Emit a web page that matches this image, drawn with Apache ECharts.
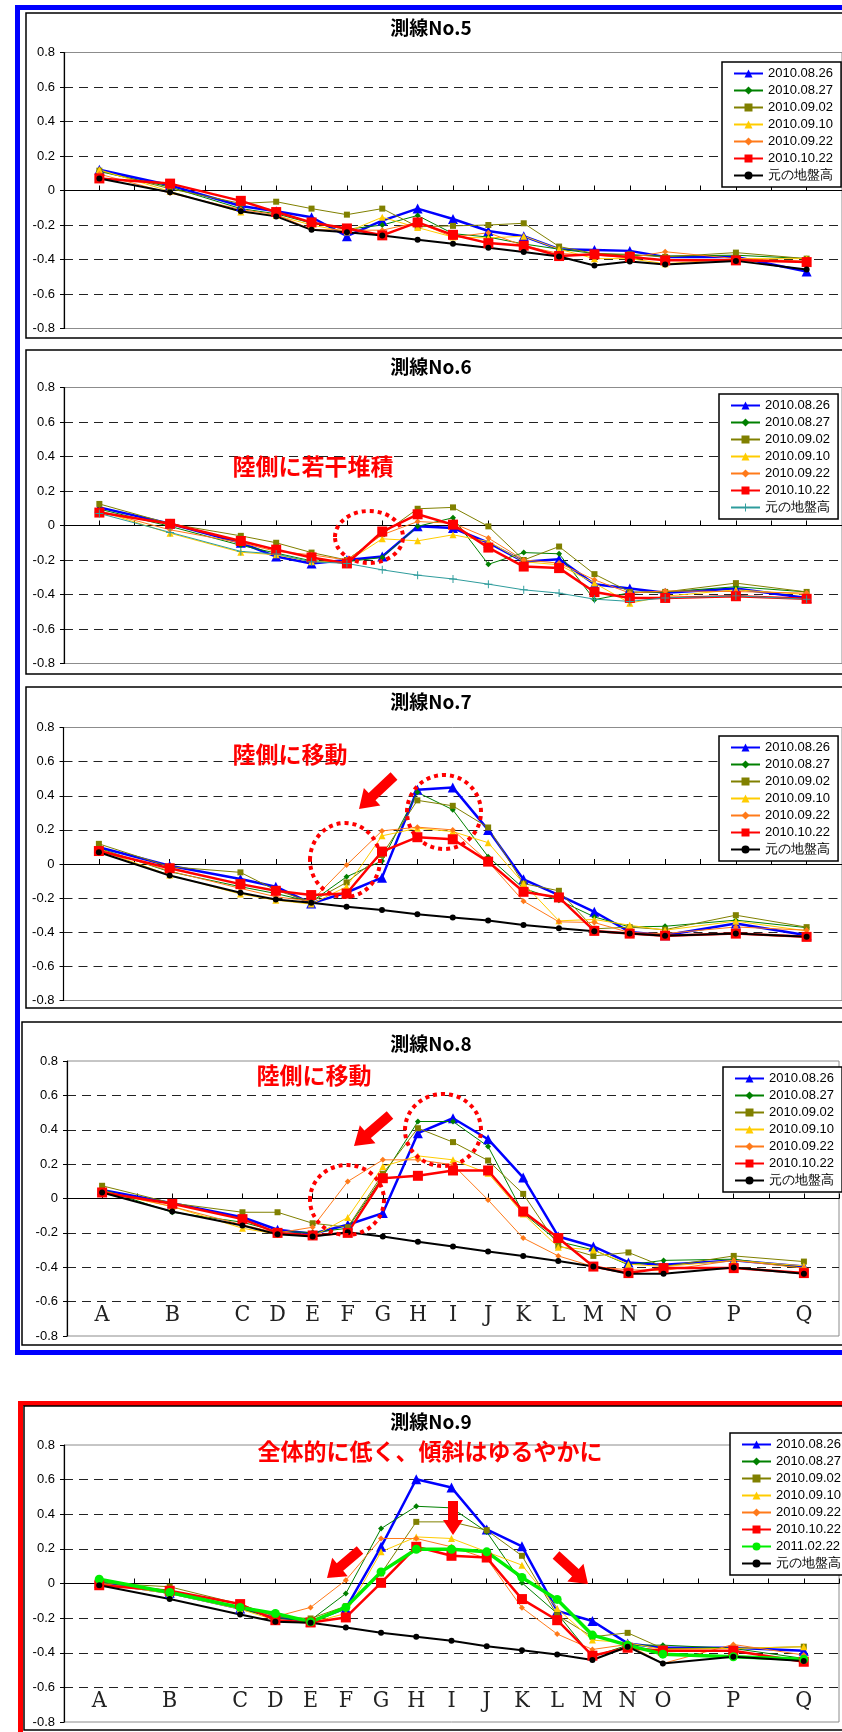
<!DOCTYPE html>
<html><head><meta charset="utf-8">
<script src="https://cdn.jsdelivr.net/npm/echarts@6/dist/echarts.min.js"></script>
<style>html,body{margin:0;padding:0;background:#fff}#c{width:842px;height:1732px}</style>
</head><body><div id="c"></div><script>
// ---------- data ----------
const stations = ['A','B','C','D','E','F','G','H','I','J','K','L','M','N','O','P','Q'];
const stationPos = [0,2,4,5,6,7,8,9,10,11,12,13,14,15,16,18,20];
const panelTitles = ['測線No.5','測線No.6','測線No.7','測線No.8','測線No.9'];
const dateNames = ['2010.08.26','2010.08.27','2010.09.02','2010.09.10','2010.09.22','2010.10.22','2011.02.22'];
const baseName = '元の地盤高';

// 測線No.5
const l5_0826 = [0.12, 0.03, -0.09, -0.12, -0.155, -0.265, -0.175, -0.105, -0.165, -0.235, -0.265, -0.34, -0.345, -0.35, -0.385, -0.385, -0.47];
const l5_0827 = [0.11, 0.02, -0.105, -0.135, -0.19, -0.225, -0.2, -0.145, -0.25, -0.27, -0.31, -0.34, -0.365, -0.375, -0.38, -0.375, -0.395];
const l5_0902 = [0.115, 0.01, -0.075, -0.065, -0.105, -0.14, -0.105, -0.21, -0.205, -0.2, -0.19, -0.325, -0.365, -0.37, -0.385, -0.36, -0.395];
const l5_0910 = [0.12, -0.005, -0.125, -0.145, -0.2, -0.24, -0.155, -0.215, -0.27, -0.275, -0.265, -0.34, -0.395, -0.395, -0.425, -0.395, -0.395];
const l5_0922 = [0.095, -0.015, -0.11, -0.14, -0.225, -0.23, -0.23, -0.185, -0.27, -0.245, -0.32, -0.365, -0.375, -0.39, -0.355, -0.395, -0.41];
const l5_1022 = [0.07, 0.04, -0.06, -0.125, -0.185, -0.22, -0.26, -0.185, -0.257, -0.305, -0.32, -0.38, -0.37, -0.385, -0.405, -0.405, -0.415];
const l5_base = [0.07, -0.01, -0.12, -0.15, -0.228, -0.242, -0.261, -0.286, -0.309, -0.332, -0.357, -0.383, -0.435, -0.412, -0.429, -0.408, -0.458];

// 測線No.6
const l6_0826 = [0.105, 0.01, -0.1, -0.18, -0.22, -0.2, -0.18, -0.005, -0.015, -0.1, -0.21, -0.195, -0.34, -0.365, -0.39, -0.365, -0.42];
const l6_0827 = [0.095, -0.005, -0.115, -0.16, -0.205, -0.21, -0.185, -0.005, 0.045, -0.225, -0.157, -0.164, -0.43, -0.39, -0.385, -0.355, -0.385];
const l6_0902 = [0.125, 0.01, -0.06, -0.1, -0.157, -0.2, -0.05, 0.097, 0.105, -0.005, -0.2, -0.122, -0.282, -0.385, -0.385, -0.334, -0.385];
const l6_0910 = [0.085, -0.045, -0.155, -0.17, -0.21, -0.21, -0.077, -0.089, -0.054, -0.093, -0.21, -0.228, -0.334, -0.45, -0.41, -0.373, -0.4];
const l6_0922 = [0.085, -0.025, -0.1, -0.15, -0.17, -0.2, -0.054, 0.023, 0.013, -0.073, -0.2, -0.218, -0.315, -0.392, -0.379, -0.383, -0.392];
const l6_1022 = [0.075, 0.01, -0.09, -0.14, -0.185, -0.22, -0.035, 0.065, 0.005, -0.128, -0.238, -0.247, -0.386, -0.42, -0.42, -0.41, -0.425];
const l6_base = [0.07, -0.04, -0.15, -0.165, -0.21, -0.22, -0.257, -0.288, -0.31, -0.34, -0.373, -0.392, -0.427, -0.44, -0.42, -0.408, -0.427];

// 測線No.7
const l7_0826 = [0.098, -0.01, -0.088, -0.133, -0.231, -0.167, -0.08, 0.435, 0.449, 0.2, -0.09, -0.182, -0.28, -0.398, -0.418, -0.349, -0.418];
const l7_0827 = [0.092, -0.045, -0.133, -0.173, -0.222, -0.075, 0.018, 0.42, 0.318, 0.043, -0.143, -0.212, -0.31, -0.369, -0.365, -0.329, -0.373];
const l7_0902 = [0.118, -0.016, -0.049, -0.153, -0.222, -0.108, 0.053, 0.373, 0.341, 0.214, -0.115, -0.157, -0.38, -0.37, -0.385, -0.3, -0.37];
const l7_0910 = [0.082, -0.065, -0.176, -0.212, -0.235, -0.133, 0.165, 0.21, 0.19, 0.125, -0.114, -0.333, -0.325, -0.359, -0.388, -0.335, -0.392];
const l7_0922 = [0.088, -0.041, -0.143, -0.192, -0.218, -0.006, 0.194, 0.216, 0.2, 0.014, -0.218, -0.339, -0.343, -0.402, -0.408, -0.369, -0.388];
const l7_1022 = [0.076, -0.025, -0.118, -0.157, -0.182, -0.173, 0.073, 0.157, 0.145, 0.014, -0.163, -0.196, -0.392, -0.408, -0.42, -0.408, -0.427];
const l7_base = [0.069, -0.067, -0.169, -0.208, -0.227, -0.251, -0.27, -0.294, -0.314, -0.331, -0.357, -0.376, -0.394, -0.408, -0.42, -0.408, -0.427];

// 測線No.8
const l8_0826 = [0.05, -0.027, -0.109, -0.182, -0.205, -0.153, -0.085, 0.38, 0.467, 0.345, 0.122, -0.221, -0.279, -0.372, -0.386, -0.36, -0.396];
const l8_0827 = [0.054, -0.08, -0.138, -0.192, -0.198, -0.173, 0.128, 0.448, 0.448, 0.303, -0.085, -0.25, -0.299, -0.386, -0.36, -0.353, -0.405];
const l8_0902 = [0.074, -0.027, -0.08, -0.08, -0.144, -0.167, 0.144, 0.409, 0.328, 0.221, 0.027, -0.275, -0.334, -0.314, -0.396, -0.334, -0.367];
const l8_0910 = [0.041, -0.047, -0.173, -0.208, -0.221, -0.111, 0.186, 0.248, 0.225, 0.147, -0.09, -0.283, -0.299, -0.382, -0.396, -0.36, -0.392];
const l8_0922 = [0.045, -0.047, -0.153, -0.2, -0.167, 0.099, 0.225, 0.225, 0.196, -0.008, -0.23, -0.334, -0.396, -0.415, -0.419, -0.36, -0.405];
const l8_1022 = [0.035, -0.031, -0.12, -0.2, -0.215, -0.2, 0.118, 0.132, 0.163, 0.163, -0.076, -0.23, -0.396, -0.434, -0.405, -0.405, -0.434];
const l8_base = [0.035, -0.076, -0.157, -0.208, -0.221, -0.196, -0.221, -0.252, -0.279, -0.308, -0.334, -0.363, -0.396, -0.438, -0.438, -0.401, -0.438];

// 測線No.9
const l9_0826 = [0.004, -0.054, -0.144, -0.192, -0.221, -0.144, 0.212, 0.602, 0.554, 0.312, 0.215, -0.158, -0.217, -0.346, -0.371, -0.371, -0.388];
const l9_0827 = [0.01, -0.042, -0.144, -0.202, -0.212, -0.058, 0.317, 0.446, 0.437, 0.298, 0.004, -0.173, -0.423, -0.356, -0.356, -0.375, -0.433];
const l9_0902 = [0.004, -0.019, -0.119, -0.192, -0.202, -0.131, 0.058, 0.356, 0.356, 0.308, 0.16, -0.183, -0.308, -0.285, -0.375, -0.375, -0.365];
const l9_0910 = [0, -0.058, -0.148, -0.212, -0.227, -0.173, 0.183, 0.269, 0.26, 0.183, 0.106, -0.144, -0.327, -0.342, -0.381, -0.375, -0.365];
const l9_0922 = [0, -0.048, -0.135, -0.192, -0.138, 0.019, 0.26, 0.26, 0.212, 0.144, -0.14, -0.292, -0.381, -0.352, -0.462, -0.352, -0.413];
const l9_1022 = [-0.01, -0.042, -0.119, -0.212, -0.225, -0.196, 0.004, 0.212, 0.16, 0.15, -0.09, -0.212, -0.417, -0.371, -0.388, -0.388, -0.452];
const l9_0222 = [0.025, -0.052, -0.138, -0.173, -0.221, -0.138, 0.067, 0.198, 0.198, 0.183, 0.035, -0.092, -0.298, -0.356, -0.408, -0.423, -0.438];
const l9_base = [-0.01, -0.09, -0.179, -0.221, -0.227, -0.254, -0.285, -0.308, -0.331, -0.362, -0.385, -0.41, -0.442, -0.365, -0.462, -0.423, -0.448];

// ---------- styles / layout ----------
const PLUS = 'path://M-0.6,-5L0.6,-5L0.6,-0.6L5,-0.6L5,0.6L0.6,0.6L0.6,5L-0.6,5L-0.6,0.6L-5,0.6L-5,-0.6L-0.6,-0.6Z';
const sty = {
  '2010.08.26': {color:'#0000FF', symbol:'triangle', size:10, width:2.5},
  '2010.08.27': {color:'#008000', symbol:'diamond', size:6, width:1},
  '2010.09.02': {color:'#808000', symbol:'rect', size:6, width:1},
  '2010.09.10': {color:'#FFCC00', symbol:'triangle', size:7, width:1},
  '2010.09.22': {color:'#FF7A1A', symbol:'diamond', size:6, width:1},
  '2010.10.22': {color:'#FF0000', symbol:'rect', size:10, width:2.5},
  '2011.02.22': {color:'#00EE00', symbol:'circle', size:9, width:3.5},
  'base':       {color:'#000000', symbol:'circle', size:6, width:2},
  'baseTeal':   {color:'#2E9C9C', symbol:PLUS, size:8, width:1}
};
const panels = [
  {sets:[l5_0826,l5_0827,l5_0902,l5_0910,l5_0922,l5_1022], base:l5_base, baseStyle:'base'},
  {sets:[l6_0826,l6_0827,l6_0902,l6_0910,l6_0922,l6_1022], base:l6_base, baseStyle:'baseTeal'},
  {sets:[l7_0826,l7_0827,l7_0902,l7_0910,l7_0922,l7_1022], base:l7_base, baseStyle:'base'},
  {sets:[l8_0826,l8_0827,l8_0902,l8_0910,l8_0922,l8_1022], base:l8_base, baseStyle:'base'},
  {sets:[l9_0826,l9_0827,l9_0902,l9_0910,l9_0922,l9_1022,l9_0222], base:l9_base, baseStyle:'base'}
];
const gridBox = [
  {left:64, top:52.5, width:782, height:276},
  {left:64, top:387.5, width:782, height:276},
  {left:63.5, top:727.5, width:782, height:273},
  {left:67, top:1061, width:785, height:275},
  {left:64, top:1445, width:782, height:277}
];
const titleY = [29.5, 368.5, 703, 1045, 1423];
const legendPos = [
  {left:722, top:62}, {left:719, top:394}, {left:719, top:736}, {left:723, top:1067}, {left:730, top:1433}
];

const chart = echarts.init(document.getElementById('c'), null, {renderer:'canvas'});

const grids = [], xAxes = [], yAxes = [], series = [], legends = [], titles = [];
panels.forEach((p, k) => {
  grids.push(Object.assign({show:true, borderColor:'#8c8c8c', borderWidth:1, containLabel:false}, gridBox[k]));
  xAxes.push({
    gridIndex:k, type:'value', min:-1, max:21, interval:1,
    axisLine:{show:true, onZero:true, lineStyle:{color:'#000', width:1.2}},
    axisTick:{show:true, inside:true, length:5, lineStyle:{color:'#000'}},
    axisLabel:{show:false}, splitLine:{show:false}
  });
  yAxes.push({
    gridIndex:k, type:'value', min:-0.8, max:0.8, interval:0.2, position:'left',
    axisLine:{show:true, onZero:false, lineStyle:{color:'#000', width:1.2}},
    axisTick:{show:true, length:4, lineStyle:{color:'#000'}},
    axisLabel:{color:'#000', fontSize:13, fontFamily:'"Liberation Sans", Arial, sans-serif', margin:9},
    splitLine:{show:true, showMinLine:false, showMaxLine:false, lineStyle:{color:'#222', width:1, type:[9,6]}}
  });
  const names = [];
  const allSets = p.sets.concat([p.base]);
  allSets.forEach((vals, j) => {
    const isBase = j === p.sets.length;
    const label = isBase ? baseName : dateNames[j];
    const s = isBase ? sty[p.baseStyle] : sty[label];
    const nm = 'p' + k + '|' + label;
    names.push(nm);
    series.push({
      type:'line', name:nm, xAxisIndex:k, yAxisIndex:k,
      data: vals.map((v, i) => [stationPos[i], v]),
      symbol:s.symbol, symbolSize:s.size, showSymbol:true,
      lineStyle:{color:s.color, width:s.width},
      itemStyle:{color:s.color},
      emphasis:{disabled:true}, animation:false
    });
  });
  legends.push({
    orient:'vertical', left:legendPos[k].left, top:legendPos[k].top,
    padding:[5, 8, 5, 11], itemWidth:29, itemHeight:10, itemGap:4,
    borderColor:'#000', borderWidth:1.5, backgroundColor:'#fff',
    selectedMode:false,
    textStyle:{fontSize:13, color:'#000', fontFamily:'"Liberation Sans", Arial, sans-serif', lineHeight:13},
    formatter: n => n.split('|')[1],
    data: names
  });
  titles.push({
    text:panelTitles[k], left:431, top:titleY[k] - 11, textAlign:'center', padding:0,
    textStyle:{fontSize:19, fontWeight:'bold', color:'#000', fontFamily:'"Noto Sans CJK JP", sans-serif'}
  });
});

// station letter axes for panels 4 and 5
[3, 4].forEach(k => {
  xAxes.push({
    gridIndex:k, type:'value', min:-1, max:21, interval:1, position:'bottom',
    axisLine:{show:false, onZero:false}, axisTick:{show:false}, splitLine:{show:false},
    axisLabel:{
      show:true, inside:true, margin:9, color:'#222', fontSize:23,
      fontFamily:'"DejaVu Serif Condensed", "Liberation Serif", serif',
      formatter: v => { const i = stationPos.indexOf(v); return i >= 0 ? stations[i] : ''; }
    }
  });
});

// ---------- annotations ----------
function arrowPts(x1, y1, x2, y2, sw, hw, hl) {
  const dx = x2 - x1, dy = y2 - y1, L = Math.hypot(dx, dy), ux = dx / L, uy = dy / L, px = -uy, py = ux;
  const bx = x2 - ux * hl, by = y2 - uy * hl;
  return [[x1 + px * sw, y1 + py * sw], [bx + px * sw, by + py * sw], [bx + px * hw, by + py * hw], [x2, y2],
          [bx - px * hw, by - py * hw], [bx - px * sw, by - py * sw], [x1 - px * sw, y1 - py * sw]];
}
const RED = '#FF0000';
function note(text, x, y) {
  return {type:'text', x:x, y:y, z:50, style:{text:text, fill:RED, font:'bold 23px "Noto Sans CJK JP", sans-serif', align:'center', verticalAlign:'middle'}};
}
function ring(cx, cy, rx, ry) {
  return {type:'ellipse', z:50, shape:{cx:cx, cy:cy, rx:rx, ry:ry}, style:{fill:'none', stroke:RED, lineWidth:4, lineDash:[4, 4]}};
}
function arrow(x1, y1, x2, y2, sw, hw, hl) {
  return {type:'polygon', z:50, shape:{points:arrowPts(x1, y1, x2, y2, sw, hw, hl)}, style:{fill:RED}};
}
function box(x, y, w, h, color, lw) {
  return {type:'rect', z:40, shape:{x:x, y:y, width:w, height:h}, style:{fill:'none', stroke:color, lineWidth:lw}};
}
const graphics = [
  box(17.5, 7.5, 1000, 1345, '#0000FF', 5),
  box(20.5, 1403.5, 1000, 1000, '#FF0000', 5),
  box(26, 13, 1000, 325, '#000', 1.5),
  box(26, 350, 1000, 324, '#000', 1.5),
  box(26, 687, 1000, 321, '#000', 1.5),
  box(22, 1022, 1000, 323, '#000', 1.5),
  box(24, 1406, 1000, 324, '#000', 1.5),
  note('陸側に若干堆積', 313, 466.5),
  ring(369, 537, 34, 26),
  note('陸側に移動', 290, 754),
  arrow(394, 776, 359, 809, 5, 12, 18),
  ring(345, 860, 35, 37),
  ring(444, 812, 37, 37),
  note('陸側に移動', 314, 1075),
  arrow(390, 1115, 354, 1146, 5, 12, 18),
  ring(347, 1200, 37, 35),
  ring(443, 1130, 38, 36),
  note('全体的に低く、傾斜はゆるやかに', 430, 1451),
  arrow(360, 1550, 327, 1578, 5, 12, 17),
  arrow(453, 1501, 453, 1535, 5, 10, 15),
  arrow(556, 1555, 588, 1584, 5, 12, 17)
];

chart.setOption({
  animation:false,
  backgroundColor:'#ffffff',
  title:titles,
  legend:legends,
  grid:grids,
  xAxis:xAxes,
  yAxis:yAxes,
  series:series,
  graphic:{elements:graphics}
});
</script></body></html>
